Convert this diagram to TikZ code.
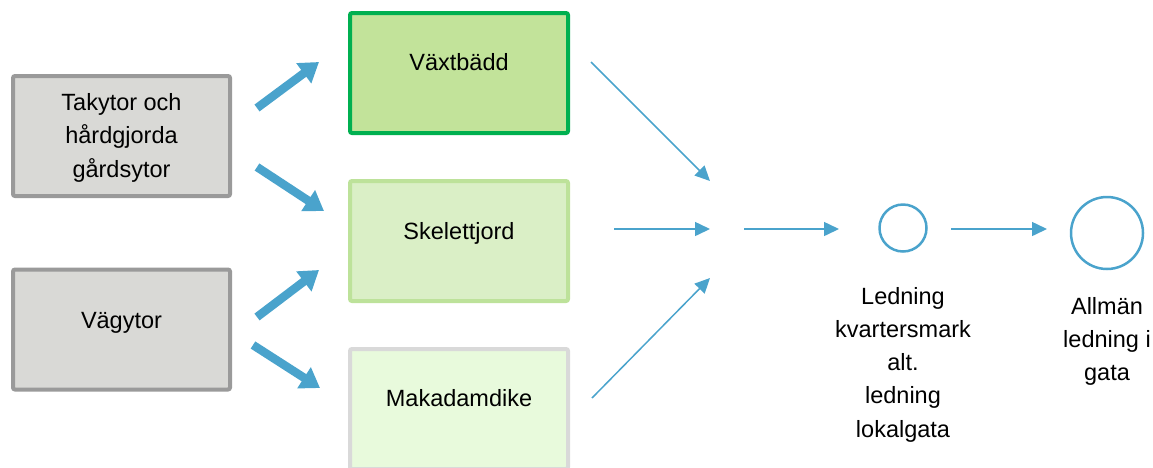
\documentclass[tikz,border=0pt]{standalone}
\usepackage{fontspec}
\setmainfont{Liberation Sans}
\usetikzlibrary{arrows.meta}
\definecolor{flowblue}{HTML}{4AA3CC}
\definecolor{srcfill}{HTML}{D9D9D6}
\definecolor{srcdraw}{HTML}{9A9A9A}
\definecolor{vaxfill}{HTML}{C2E39A}
\definecolor{vaxdraw}{HTML}{00B050}
\definecolor{skelfill}{HTML}{DAEFC6}
\definecolor{skeldraw}{HTML}{BDE29A}
\definecolor{makfill}{HTML}{E8FADC}
\definecolor{makdraw}{HTML}{D9D9D9}
\tikzset{
  boxshape/.style={rectangle, rounded corners=2pt, line width=4pt, minimum width=218pt, minimum height=120pt, inner sep=0pt},
  boxtext/.style={inner sep=0pt, align=center, font=\fontsize{23.5}{33.5}\selectfont},
  labeltext/.style={inner sep=0pt, align=center, anchor=north, font=\fontsize{23.5}{33.25}\selectfont},
  bigflow/.style={draw=flowblue, line width=8.5pt, -{Triangle[length=19pt,width=24pt]}},
  thinflow/.style={draw=flowblue, line width=1.5pt, -{Triangle[length=15pt,width=14pt]}},
  pipe/.style={draw=flowblue, line width=2.5pt, inner sep=0pt, circle}
}
\begin{document}
\begin{tikzpicture}[x=1pt,y=-1pt]
\useasboundingbox (0,0) rectangle (1153,467);

% source surfaces
\node[boxshape, fill=srcfill, draw=srcdraw, minimum width=217pt] (tak) at (121.5,136) {};
\node[boxshape, fill=srcfill, draw=srcdraw, minimum width=217pt] (vag) at (121.5,329.5) {};
\node[boxtext, anchor=north] (taktext) at (121.5,93) {Takytor och\\hårdgjorda\\gårdsytor};
\node[boxtext, anchor=base] (vagtext) at (121.5,328) {Vägytor};

% treatment facilities
\node[boxshape, fill=vaxfill, draw=vaxdraw] (vax) at (459,73) {};
\node[boxshape, fill=skelfill, draw=skeldraw] (skel) at (459,241) {};
\node[boxshape, fill=makfill, draw=makdraw] (mak) at (459,409) {};
\node[boxtext, anchor=base] (vaxtext) at (459,70.5) {Växtbädd};
\node[boxtext, anchor=base] (skeltext) at (459,239) {Skelettjord};
\node[boxtext, anchor=base] (maktext) at (459,406.5) {Makadamdike};

% pipes
\node[pipe, minimum size=47pt] (led) at (903,228) {};
\node[pipe, minimum size=72pt] (allm) at (1107,233) {};
\node[labeltext] (ledtext) at (903,287) {Ledning\\kvartersmark\\alt.\\ledning\\lokalgata};
\node[labeltext] (allmtext) at (1107,297) {Allmän\\ledning i\\gata};

% end points of the flow arrows
\coordinate (t1a) at (257,108); \coordinate (t1b) at (319,62);
\coordinate (t2a) at (257,167); \coordinate (t2b) at (324,211);
\coordinate (v1a) at (257,317); \coordinate (v1b) at (319,270);
\coordinate (v2a) at (253,345); \coordinate (v2b) at (320,388);
\coordinate (f1a) at (591,62);  \coordinate (f1b) at (710,181);
\coordinate (f2a) at (614,229); \coordinate (f2b) at (710,229);
\coordinate (f3a) at (592,398); \coordinate (f3b) at (710,278);
\coordinate (ja)  at (744,229); \coordinate (jb)  at (839,229);
\coordinate (ka)  at (951,229); \coordinate (kb)  at (1047,229);

\draw[bigflow] (t1a) -- (t1b);
\draw[bigflow] (t2a) -- (t2b);
\draw[bigflow] (v1a) -- (v1b);
\draw[bigflow] (v2a) -- (v2b);

\draw[thinflow] (f1a) -- (f1b);
\draw[thinflow] (f2a) -- (f2b);
\draw[thinflow] (f3a) -- (f3b);
\draw[thinflow] (ja) -- (jb);
\draw[thinflow] (ka) -- (kb);
\end{tikzpicture}
\end{document}
